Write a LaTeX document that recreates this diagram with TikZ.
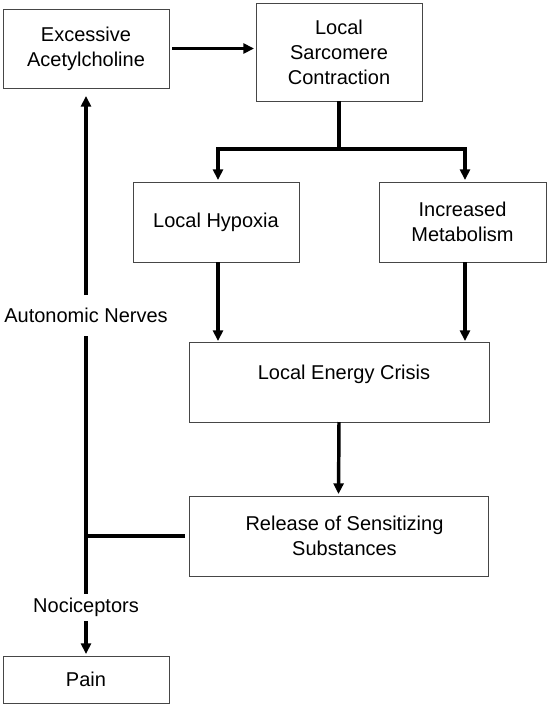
\documentclass[tikz,border=0pt]{standalone}
\usepackage{fontspec}
\setmainfont{Liberation Sans}
\usetikzlibrary{arrows.meta,calc}
\definecolor{bordergray}{RGB}{70,70,70}
\begin{document}
\begin{tikzpicture}[x=0.75pt,y=-0.75pt,
  box/.style={draw=bordergray, line width=0.75pt, inner sep=0pt, outer sep=0pt,
    align=center, font=\fontsize{15}{18.75}\selectfont},
  lbl/.style={inner sep=0pt, outer sep=0pt, font=\fontsize{15}{18.75}\selectfont},
  thk/.style={line width=2.6pt, line join=miter},
  arr/.style={thk, -{Triangle[width=7.5pt,length=8pt]}}]
\useasboundingbox (0,0) rectangle (548,704);

\node[box, minimum width=124.5pt, minimum height=59.25pt] (b1) at (86,48.5) {Excessive\\Acetylcholine};
\node[box, minimum width=124.5pt, minimum height=73.5pt] (b2) at (339,52) {Local\\Sarcomere\\Contraction};
\node[box, minimum width=124.5pt, minimum height=60pt] (hyp) at (216,222) {Local Hypoxia};
\node[box, minimum width=125.25pt, minimum height=60pt] (met) at (462.5,222) {Increased\\Metabolism};
\node[box, minimum width=225pt, minimum height=60pt, text height=11pt, text depth=15.5pt] (en) at (339,382) {\hspace*{7.5pt}Local Energy Crisis};
\node[box, minimum width=224.25pt, minimum height=60pt] (rel) at (338.5,536) {\hspace*{9pt}Release of Sensitizing\\\hspace*{9pt}Substances};
\node[box, minimum width=124.5pt, minimum height=35.25pt] (pain) at (86,679.5) {Pain};

\node[lbl, minimum height=30.75pt] (an) at (86,315.5) {Autonomic Nerves};
\node[lbl, minimum height=20.25pt] (noc) at (86,607.5) {Nociceptors};

\coordinate (j) at (339,149);
\coordinate (jl) at (218,149);
\coordinate (jr) at (465,149);
\coordinate (L) at (86,536);

\draw[arr, shorten <=2.25pt, shorten >=1.5pt] (b1.east) -- (b1.east -| b2.west);
\draw[thk] (b2.south) -- (j);
\draw[arr, shorten >=1.5pt] (j) -- (jl) -- (jl |- hyp.north);
\draw[arr, shorten >=1.5pt] (j) -- (jr) -- (jr |- met.north);
\draw[arr, shorten >=0.75pt] (jl |- hyp.south) -- (jl |- en.north);
\draw[arr, shorten >=0.75pt] (jr |- met.south) -- (jr |- en.north);
\draw[arr, shorten >=1.5pt] (en.south) -- (rel.north);
\draw[thk, shorten <=3pt] (rel.west) -- (L);
\draw[thk] (an) -- (L) -- (noc);
\draw[arr, shorten >=6pt] (an) -- (b1.south);
\draw[arr, shorten >=1.5pt] (noc) -- (pain.north);
\end{tikzpicture}
\end{document}
